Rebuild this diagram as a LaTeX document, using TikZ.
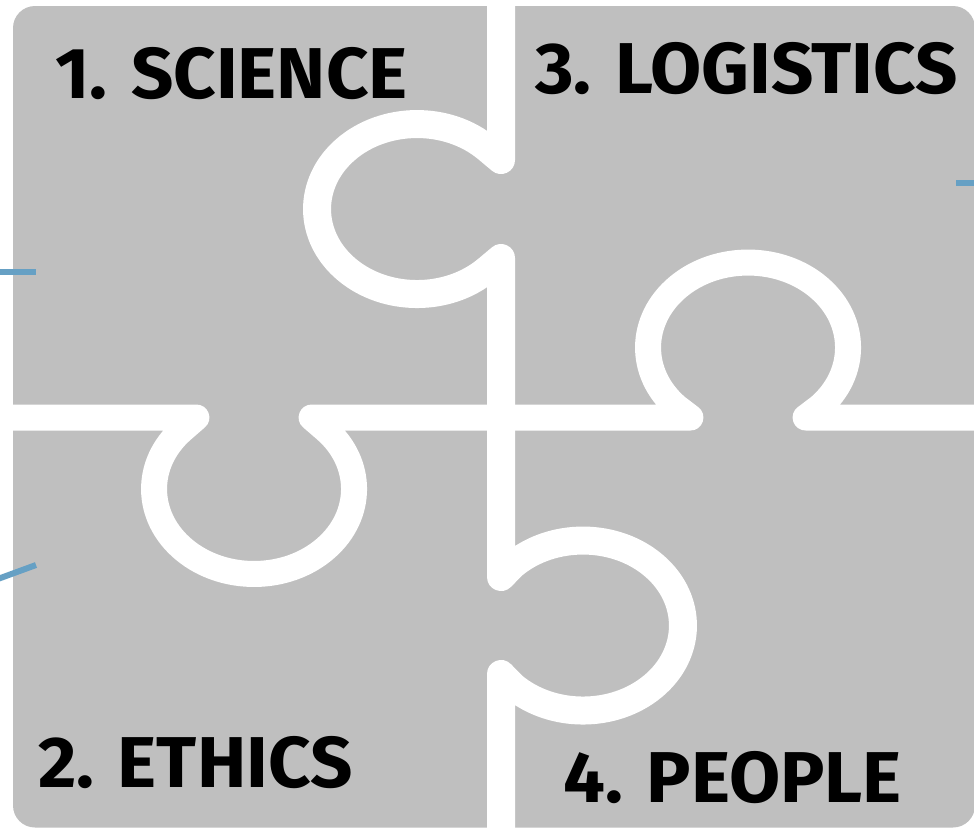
\documentclass[tikz,border=0pt]{standalone}
\usepackage{fontspec}
\setmainfont{Fira Sans}[FakeStretch=1.03]
\usepackage{tikz}

\definecolor{piecegray}{RGB}{191,191,191}
\definecolor{linkblue}{RGB}{102,160,196}

\begin{document}
\begin{tikzpicture}[x=0.5pt,y=-0.5pt,
    seam/.style={white, line join=round, line cap=round},
    link/.style={linkblue, line width=3pt},
    label/.style={anchor=base west, inner sep=0pt, font=\bfseries\fontsize{36}{40}\selectfont}]
    \useasboundingbox (0,0) rectangle (974,827);

    % the board the four pieces are cut from
    \fill[piecegray, rounded corners=11pt] (13,6) rectangle (975,827.5);

    % vertical cut with the two knobs
    \draw[seam, line width=14pt] (501,-20) -- (501,160) -- (487,148.3)
        arc[start angle=-45.6, end angle=-314.4, x radius=100, y radius=85]
        -- (501,258) -- (501,577) -- (513,564.8)
        arc[start angle=-134.4, end angle=134.4, x radius=100, y radius=85]
        -- (501,674) -- (501,850);

    % horizontal cut with the two knobs
    \draw[seam, line width=13pt] (-20,417.5) -- (196.4,417.5) -- (182.6,429.5)
        arc[start angle=-135.6, end angle=-404.4, x radius=100, y radius=85]
        -- (311.6,417.5) -- (690.4,417.5) -- (676.6,407)
        arc[start angle=135.6, end angle=404.4, x radius=100, y radius=85]
        -- (805.6,417.5) -- (1000,417.5);

    % piece titles
    \node[label] (science)   at (55,98)   {1. SCIENCE};
    \node[label] (logistics) at (535,93)  {3. LOGISTICS};
    \node[label] (ethics)    at (38,787)  {2. ETHICS};
    \node[label] (people)    at (563,802) {4. PEOPLE};

    % ends of the links coming in from outside
    \coordinate (sciencein)    at (-5,272);
    \coordinate (scienceend)   at (36,272);
    \coordinate (ethicsin)     at (-5,580);
    \coordinate (ethicsend)    at (36,565);
    \coordinate (logisticsend) at (956,183);
    \coordinate (logisticsout) at (980,183);
    \draw[link] (sciencein) -- (scienceend);
    \draw[link] (ethicsin) -- (ethicsend);
    \draw[link] (logisticsend) -- (logisticsout);
\end{tikzpicture}
\end{document}
